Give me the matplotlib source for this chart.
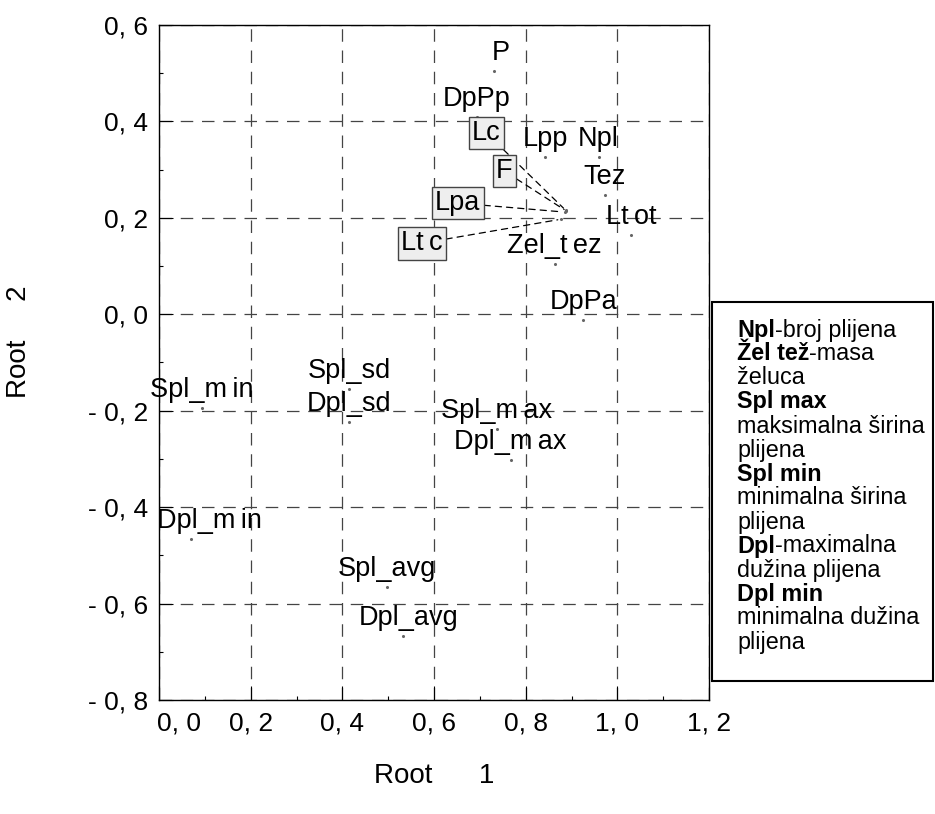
import matplotlib
matplotlib.use('Agg')
import matplotlib.pyplot as plt
from matplotlib import font_manager
from matplotlib.patches import Rectangle
from matplotlib.ticker import MultipleLocator
from matplotlib.transforms import ScaledTranslation

# pick a narrow face if it exists, otherwise plain Liberation Sans
names = {f.name for f in font_manager.fontManager.ttflist}
narrow = 'Liberation Sans Narrow' if 'Liberation Sans Narrow' in names else 'Liberation Sans'
plt.rcParams['font.family'] = ['Liberation Sans', 'DejaVu Sans']

sp = '\u2009'  # the odd gaps in some labels

# data
labels = ['P', 'DpPp', 'Lpp', 'Npl', 'Tez', 'Lt' + sp + 'ot', 'Zel_t' + sp + 'ez', 'DpPa',
          'Spl_m' + sp + 'in', 'Spl_sd', 'Dpl_sd', 'Spl_m' + sp + 'ax', 'Dpl_m' + sp + 'ax',
          'Dpl_m' + sp + 'in', 'Spl_avg', 'Dpl_avg']
root1 = [0.73, 0.693, 0.843, 0.959, 0.972, 1.03, 0.863, 0.926,
         0.093, 0.415, 0.415, 0.737, 0.767,
         0.07, 0.498, 0.533]
root2 = [0.505, 0.409, 0.326, 0.326, 0.247, 0.165, 0.105, -0.012,
         -0.195, -0.154, -0.224, -0.237, -0.303,
         -0.467, -0.566, -0.668]

# crowded points, labels moved away with leader lines
moved_labels = ['Lc', 'F', 'Lpa', 'Lt' + sp + 'c']
moved_root1 = [0.887, 0.889, 0.885, 0.876]
moved_root2 = [0.216, 0.214, 0.212, 0.197]

xticklabels = ['0, 0', '0, 2', '0, 4', '0, 6', '0, 8', '1, 0', '1, 2']
yticklabels = ['- 0, 8', '- 0, 6', '- 0, 4', '- 0, 2', '0, 0', '0, 2', '0, 4', '0, 6']

legend_lines = [('Npl', '-broj plijena'), ('Žel tež', '-masa'), ('', 'želuca'),
                ('Spl max', ''), ('', 'maksimalna širina'), ('', 'plijena'),
                ('Spl min', ''), ('', 'minimalna širina'), ('', 'plijena'),
                ('Dpl', '-maximalna'), ('', 'dužina plijena'), ('Dpl min', ''),
                ('', 'minimalna dužina'), ('', 'plijena')]

# label nudges in pixels (x, y) where the label is not centred above its point
nudge = {'P': (7, 0), 'Dpl_m' + sp + 'in': (18, 0), 'Dpl_avg': (5, 0)}
moved_offset = [(-79, 77), (-62, 40), (-107, 9), (-139, -24)]

fig = plt.figure(figsize=(9.35, 8.14), dpi=100)
ax = fig.add_axes([159/935, 1 - 700/814, 550/935, 675/814])

ax.set_xlim(0, 1.2)
ax.set_ylim(-0.8, 0.6)
ax.set_xticks([0, 0.2, 0.4, 0.6, 0.8, 1.0, 1.2])
ax.set_yticks([-0.8, -0.6, -0.4, -0.2, 0, 0.2, 0.4, 0.6])
ax.set_xticklabels(xticklabels)
ax.set_yticklabels(yticklabels)
ax.xaxis.set_minor_locator(MultipleLocator(0.1))
ax.yaxis.set_minor_locator(MultipleLocator(0.1))
ax.tick_params(which='major', direction='in', length=10, width=0.8, labelsize=19, pad=8)
ax.tick_params(which='minor', direction='in', length=3, width=0.8)
ax.grid(True, which='major', color='#444444', linestyle=(0, (10, 7)), linewidth=0.9)
for s in ax.spines.values():
    s.set_linewidth(1.0)

# first x tick label sits to the right of the corner
first = ax.get_xticklabels()[0]
first.set_transform(first.get_transform() + ScaledTranslation(20/100, 0, fig.dpi_scale_trans))

ax.scatter(root1 + moved_root1, root2 + moved_root2, s=1.5, color='#666666', zorder=3)

for lab, x, y in zip(labels, root1, root2):
    dx, dy = nudge.get(lab, (0, 0))
    ax.annotate(lab, (x, y), xytext=(dx, 5 + dy), textcoords='offset pixels',
                ha='center', va='bottom', fontsize=19.5, family=narrow, zorder=4)

for lab, x, y, off in zip(moved_labels, moved_root1, moved_root2, moved_offset):
    ax.annotate(lab, (x, y), xytext=off, textcoords='offset pixels',
                ha='center', va='center', fontsize=19.5, family=narrow, zorder=4,
                bbox=dict(boxstyle='square,pad=0.12', fc='#eeeeee', ec='#444444', lw=1),
                arrowprops=dict(arrowstyle='-', linestyle=(0, (5, 4)), color='black',
                                lw=0.9, shrinkA=0, shrinkB=2))

ax.set_xlabel('Root      1', fontsize=20, family=narrow)
ax.xaxis.set_label_coords(0.5, -0.093)
ax.set_ylabel('Root     2', fontsize=20, family=narrow)
ax.yaxis.set_label_coords(-0.231, 0.53)

# explanation box on the right
fig.patches.append(Rectangle((712/935, 1 - 681/814), 221/935, 379/814,
                             transform=fig.transFigure, fill=False,
                             edgecolor='black', linewidth=1.5))
fig.canvas.draw()
r = fig.canvas.get_renderer()
x0 = 737 / 935
ytop = 330
for i, (b, n) in enumerate(legend_lines):
    yy = 1 - (ytop + i * 24) / 814
    xx = x0
    if b:
        t = fig.text(xx, yy, b, fontsize=16.8, fontweight='bold', va='center')
        w = t.get_window_extent(renderer=r).width
        xx += w / 935
    if n:
        fig.text(xx, yy, n, fontsize=16.8, va='center')

fig.savefig('out.png', dpi=100)
